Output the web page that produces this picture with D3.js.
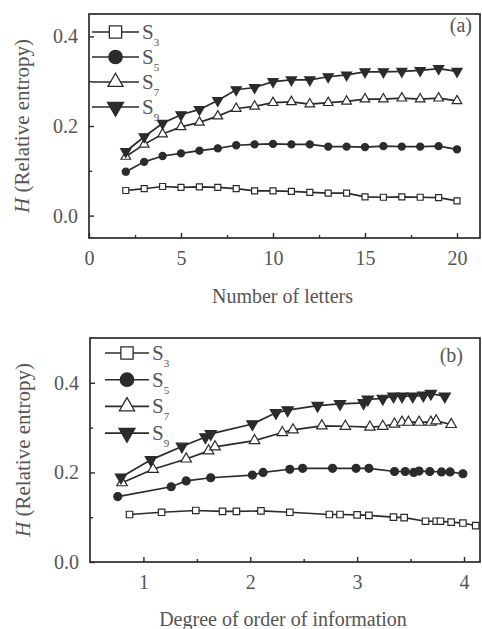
<!DOCTYPE html>
<html>
<head>
<meta charset="utf-8">
<script src="https://cdn.jsdelivr.net/npm/d3@7"></script>
<style>
  body { margin: 0; background: #fff; }
  svg { display: block; }
  svg text { font-family: "Liberation Serif", "DejaVu Serif", serif; }
</style>
</head>
<body>
<svg id="chart" width="482" height="629"></svg>
<script>
// panel (a): entropy vs number of letters
const letters = [2, 3, 4, 5, 6, 7, 8, 9, 10, 11, 12, 13, 14, 15, 16, 17, 18, 19, 20];
const s3A = [0.056, 0.060, 0.065, 0.063, 0.064, 0.063, 0.060, 0.055, 0.055, 0.054, 0.052, 0.050, 0.050, 0.042, 0.041, 0.042, 0.041, 0.040, 0.033];
const s5A = [0.098, 0.120, 0.133, 0.139, 0.145, 0.150, 0.157, 0.159, 0.160, 0.159, 0.159, 0.154, 0.154, 0.153, 0.155, 0.154, 0.154, 0.155, 0.148];
const s7A = [0.132, 0.159, 0.182, 0.198, 0.208, 0.222, 0.239, 0.244, 0.252, 0.254, 0.249, 0.252, 0.255, 0.260, 0.260, 0.262, 0.260, 0.262, 0.256];
const s9A = [0.143, 0.176, 0.206, 0.225, 0.237, 0.257, 0.281, 0.286, 0.299, 0.303, 0.303, 0.310, 0.314, 0.321, 0.321, 0.322, 0.324, 0.328, 0.322];

// panel (b): entropy vs degree of order of information
const s3BX = [0.87, 1.17, 1.49, 1.74, 1.87, 2.10, 2.37, 2.74, 2.84, 3.00, 3.11, 3.34, 3.44, 3.64, 3.74, 3.78, 3.88, 3.99, 4.11];
const s3B = [0.106, 0.111, 0.115, 0.113, 0.113, 0.114, 0.111, 0.106, 0.106, 0.105, 0.104, 0.100, 0.099, 0.091, 0.091, 0.091, 0.089, 0.087, 0.081];
const s5BX = [0.76, 1.26, 1.40, 1.63, 2.02, 2.12, 2.37, 2.49, 2.77, 2.99, 3.11, 3.35, 3.45, 3.53, 3.58, 3.68, 3.79, 3.87, 3.99];
const s5B = [0.146, 0.168, 0.181, 0.188, 0.194, 0.200, 0.207, 0.209, 0.209, 0.209, 0.209, 0.202, 0.202, 0.200, 0.203, 0.202, 0.201, 0.201, 0.197];
const s7BX = [0.80, 1.09, 1.40, 1.61, 1.67, 2.04, 2.30, 2.40, 2.67, 2.89, 3.12, 3.24, 3.35, 3.42, 3.48, 3.58, 3.69, 3.74, 3.88];
const s7B = [0.177, 0.207, 0.230, 0.248, 0.257, 0.271, 0.289, 0.295, 0.304, 0.303, 0.301, 0.303, 0.308, 0.312, 0.312, 0.312, 0.312, 0.315, 0.307];
const s9BX = [0.79, 1.07, 1.36, 1.58, 1.63, 2.02, 2.24, 2.35, 2.63, 2.84, 3.06, 3.10, 3.24, 3.34, 3.42, 3.52, 3.62, 3.69, 3.82];
const s9B = [0.189, 0.228, 0.258, 0.279, 0.286, 0.308, 0.333, 0.339, 0.349, 0.353, 0.355, 0.363, 0.365, 0.370, 0.370, 0.370, 0.372, 0.376, 0.370];

const seriesNames = ['3', '5', '7', '9'];
const xTicksA = [0, 5, 10, 15, 20];
const xMinorA = [2.5, 7.5, 12.5, 17.5];
const xTicksB = [1, 2, 3, 4];
const xMinorB = [1.5, 2.5, 3.5];
const yTicks = [0, 0.2, 0.4];
const yMinor = [0.1, 0.3];

const INK = '#2b2b2b';
const TEXT = '#555';
const SERIF = '"Liberation Serif", "DejaVu Serif", serif';

// marker style per series: symbol, fill, rotation
const markers = [
  { type: d3.symbolSquare, fill: '#fff', rot: 0 },
  { type: d3.symbolCircle, fill: INK, rot: 0 },
  { type: d3.symbolTriangle, fill: '#fff', rot: 0 },
  { type: d3.symbolTriangle, fill: INK, rot: 180 },
];

const svg = d3.select('#chart');

const drawPanel = ({ box, xDomain, yDomain, xTicks, xMinor, series, sizes, legend, tag, xLabel }) => {
  const x = d3.scaleLinear().domain(xDomain).range([box.left, box.right]);
  const y = d3.scaleLinear().domain(yDomain).range([box.bottom, box.top]);
  const g = svg.append('g');

  // frame
  g.append('rect')
    .attr('x', box.left).attr('y', box.top)
    .attr('width', box.right - box.left).attr('height', box.bottom - box.top)
    .attr('fill', 'none').attr('stroke', INK).attr('stroke-width', 1.7);

  const styleAxis = (sel) => {
    sel.attr('font-family', SERIF).attr('font-size', 20);
    sel.select('.domain').remove();
    sel.selectAll('line').attr('stroke', INK).attr('stroke-width', 1.4);
    sel.selectAll('text').attr('fill', TEXT);
  };

  g.append('g')
    .attr('transform', `translate(0,${box.bottom})`)
    .call(d3.axisBottom(x).tickValues(xTicks).tickSize(-5).tickPadding(13).tickFormat(d3.format('d')))
    .call(styleAxis);
  g.append('g')
    .attr('transform', `translate(0,${box.bottom})`)
    .call(d3.axisBottom(x).tickValues(xMinor).tickSize(-3).tickFormat(''))
    .call(styleAxis);
  g.append('g')
    .attr('transform', `translate(${box.left},0)`)
    .call(d3.axisLeft(y).tickValues(yTicks).tickSize(-5).tickPadding(11).tickFormat(d3.format('.1f')))
    .call(styleAxis);
  g.append('g')
    .attr('transform', `translate(${box.left},0)`)
    .call(d3.axisLeft(y).tickValues(yMinor).tickSize(-3).tickFormat(''))
    .call(styleAxis);

  const line = d3.line().x((d) => x(d[0])).y((d) => y(d[1]));

  series.forEach((s, i) => {
    const pts = s.xs.map((v, k) => [v, s.ys[k]]);
    g.append('path')
      .attr('d', line(pts))
      .attr('fill', 'none')
      .attr('stroke', INK)
      .attr('stroke-width', 1.7);
    g.selectAll(null)
      .data(pts)
      .enter()
      .append('path')
      .attr('d', d3.symbol().type(markers[i].type).size(sizes[i]))
      .attr('transform', (d) => `translate(${x(d[0])},${y(d[1])})rotate(${markers[i].rot})`)
      .attr('fill', markers[i].fill)
      .attr('stroke', INK)
      .attr('stroke-width', 1.2);
  });

  // legend
  seriesNames.forEach((name, i) => {
    const ly = legend.y0 + i * legend.dy;
    g.append('line')
      .attr('x1', legend.x0).attr('x2', legend.x1)
      .attr('y1', ly).attr('y2', ly)
      .attr('stroke', INK).attr('stroke-width', 1.6);
    g.append('path')
      .attr('d', d3.symbol().type(markers[i].type).size(legend.sizes[i]))
      .attr('transform', `translate(${(legend.x0 + legend.x1) / 2},${ly})rotate(${markers[i].rot})`)
      .attr('fill', markers[i].fill)
      .attr('stroke', INK)
      .attr('stroke-width', 1.3);
    const t = g.append('text')
      .attr('x', legend.x1 + 3)
      .attr('y', ly + 7)
      .attr('fill', TEXT)
      .attr('font-size', 21)
      .text('S');
    t.append('tspan')
      .attr('dy', 7)
      .attr('font-size', 11)
      .text(name);
  });

  g.append('text')
    .attr('x', tag.x)
    .attr('y', tag.y)
    .attr('text-anchor', 'end')
    .attr('fill', TEXT)
    .attr('font-size', 20)
    .text(tag.text);

  g.append('text')
    .attr('x', (box.left + box.right) / 2 - 2)
    .attr('y', xLabel.y)
    .attr('text-anchor', 'middle')
    .attr('fill', TEXT)
    .attr('font-size', 20)
    .text(xLabel.text);

  const yl = g.append('text')
    .attr('transform', `translate(${box.left - 60},${(box.top + box.bottom) / 2})rotate(-90)`)
    .attr('text-anchor', 'middle')
    .attr('fill', TEXT)
    .attr('font-size', 21);
  yl.append('tspan').attr('font-style', 'italic').text('H');
  yl.append('tspan').text(' (Relative entropy)');
};

drawPanel({
  box: { left: 89, right: 480, top: 14, bottom: 238 },
  xDomain: [0, 21.25],
  yDomain: [-0.05, 0.45],
  xTicks: xTicksA,
  xMinor: xMinorA,
  series: [
    { xs: letters, ys: s3A },
    { xs: letters, ys: s5A },
    { xs: letters, ys: s7A },
    { xs: letters, ys: s9A },
  ],
  sizes: [36, 40, 40, 45],
  legend: { x0: 92, x1: 139, y0: 32, dy: 25, sizes: [150, 140, 100, 110] },
  tag: { text: '(a)', x: 472, y: 32 },
  xLabel: { text: 'Number of letters', y: 303 },
});

drawPanel({
  box: { left: 90, right: 480, top: 338, bottom: 562 },
  xDomain: [0.5, 4.15],
  yDomain: [0, 0.5],
  xTicks: xTicksB,
  xMinor: xMinorB,
  series: [
    { xs: s3BX, ys: s3B },
    { xs: s5BX, ys: s5B },
    { xs: s7BX, ys: s7B },
    { xs: s9BX, ys: s9B },
  ],
  sizes: [42, 50, 48, 55],
  legend: { x0: 105, x1: 149, y0: 353, dy: 26.7, sizes: [150, 140, 100, 110] },
  tag: { text: '(b)', x: 463, y: 362 },
  xLabel: { text: 'Degree of order of information', y: 626 },
});
</script>
</body>
</html>
